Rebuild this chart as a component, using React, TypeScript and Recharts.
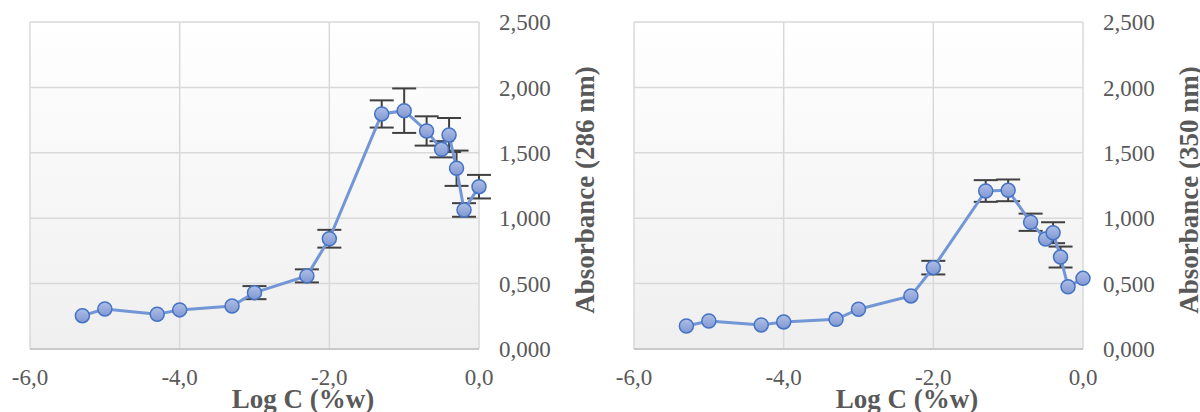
import React from 'react';
import { LineChart, Line, XAxis, YAxis, CartesianGrid, ErrorBar, Label } from 'recharts';

const logC = [-5.3, -5.0, -4.3, -4.0, -3.3, -3.0, -2.3, -2.0, -1.3, -1.0, -0.7, -0.5, -0.4, -0.3, -0.2, 0.0];
const abs286 = [0.255, 0.306, 0.266, 0.299, 0.329, 0.431, 0.559, 0.843, 1.797, 1.822, 1.667, 1.527, 1.636, 1.382, 1.063, 1.241];
// error bars hidden behind the markers in the reference are left empty (null)
const err286 = [null, null, null, null, null, 0.05, 0.05, 0.068, 0.104, 0.17, 0.112, 0.062, 0.13, 0.135, 0.052, 0.09];
const abs350 = [0.176, 0.214, 0.184, 0.207, 0.227, 0.304, 0.406, 0.622, 1.208, 1.213, 0.969, 0.841, 0.889, 0.703, 0.476, 0.54];
const err350 = [null, null, null, null, null, null, null, 0.052, 0.083, 0.083, 0.066, null, 0.08, 0.08, null, null];
const xTicks = [-6, -4, -2, 0];
const yTicks = [0, 0.5, 1, 1.5, 2, 2.5];
const xTitle = 'Log C (%w)';
const yTitle286 = 'Absorbance (286 nm)';
const yTitle350 = 'Absorbance (350 nm)';

const FONT = '"Liberation Serif", "Times New Roman", serif';
const GRAY = '#595959';

const fmtX = (v: number) => v.toFixed(1).replace('.', ',');
const fmtY = (v: number) => v.toFixed(3).replace('.', ',');

function Panel({ id, ys, errs, yTitle }: { id: string; ys: number[]; errs: (number | null)[]; yTitle: string }) {
  const data = logC.map((x, i) => ({ x, y: ys[i], err: errs[i] }));
  return (
    <LineChart width={604} height={412} data={data} margin={{ top: 22, left: 30, right: 0, bottom: 0 }}>
      <defs>
        <linearGradient id={`bg${id}`} x1="0" y1="0" x2="0" y2="1">
          <stop offset="0%" stopColor="#FFFFFF" />
          <stop offset="100%" stopColor="#EFEFEF" />
        </linearGradient>
        <linearGradient id={`mk${id}`} x1="0" y1="0" x2="0" y2="1">
          <stop offset="0%" stopColor="#AEBEE6" />
          <stop offset="100%" stopColor="#8098D2" />
        </linearGradient>
      </defs>
      <CartesianGrid fill={`url(#bg${id})`} stroke="#D9D9D9" strokeWidth={1.5} />
      <XAxis
        dataKey="x"
        type="number"
        domain={[-6, 0]}
        ticks={xTicks}
        tickFormatter={fmtX}
        height={63}
        tickSize={0}
        tickMargin={20}
        axisLine={{ stroke: '#C8C8C8', strokeWidth: 2 }}
        tick={{ fill: GRAY, fontSize: 23, fontFamily: FONT }}
        interval={0}
      >
        <Label
          content={() => (
            <text x={303} y={408} textAnchor="middle" fill={GRAY} fontSize={27} fontWeight="bold" fontFamily={FONT}>
              {xTitle}
            </text>
          )}
        />
      </XAxis>
      <YAxis
        orientation="right"
        type="number"
        domain={[0, 2.5]}
        ticks={yTicks}
        tickFormatter={fmtY}
        width={125}
        tickSize={0}
        tickMargin={20}
        axisLine={false}
        tick={{ fill: GRAY, fontSize: 23, fontFamily: FONT }}
        interval={0}
      >
        <Label
          content={() => (
            <text
              x={594}
              y={190}
              transform="rotate(-90, 594, 190)"
              textAnchor="middle"
              fill={GRAY}
              fontSize={27}
              fontWeight="bold"
              fontFamily={FONT}
            >
              {yTitle}
            </text>
          )}
        />
      </YAxis>
      <Line
        type="linear"
        dataKey="y"
        stroke="#7296D6"
        strokeWidth={3}
        isAnimationActive={false}
        dot={false}
        activeDot={false}
      >
        <ErrorBar dataKey="err" direction="y" width={12} stroke="#404040" strokeWidth={2} />
      </Line>
      <Line
        type="linear"
        dataKey="y"
        stroke="none"
        isAnimationActive={false}
        dot={{ r: 7, fill: `url(#mk${id})`, stroke: '#4472C4', strokeWidth: 1.5 }}
        activeDot={false}
        legendType="none"
      />
    </LineChart>
  );
}

export default function App() {
  return (
    <div style={{ position: 'absolute', left: 0, top: 0, width: 1200, height: 412, overflow: 'hidden', background: '#FFFFFF' }}>
      <div style={{ position: 'absolute', left: 0, top: 0 }}>
        <Panel id="a" ys={abs286} errs={err286} yTitle={yTitle286} />
      </div>
      <div style={{ position: 'absolute', left: 604, top: 0 }}>
        <Panel id="b" ys={abs350} errs={err350} yTitle={yTitle350} />
      </div>
    </div>
  );
}
